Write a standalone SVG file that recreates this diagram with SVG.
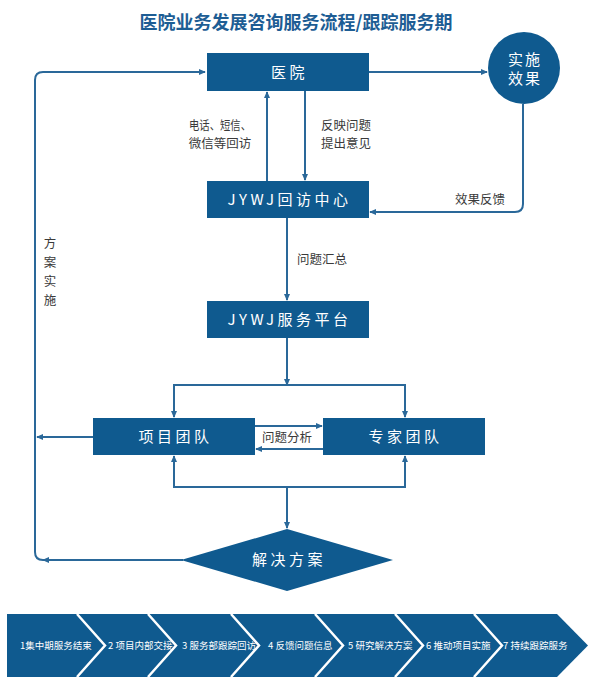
<svg xmlns="http://www.w3.org/2000/svg" width="596" height="682" viewBox="0 0 596 682">
<style>
.box{fill:#0f5a8f}
.bt{font-family:"Noto Sans CJK SC","Liberation Sans",sans-serif;font-size:15px;fill:#ffffff;font-weight:normal;text-anchor:middle;letter-spacing:3.5px}
.lb{font-family:"Noto Sans CJK SC","Liberation Sans",sans-serif;font-size:12.5px;fill:#3a3a3a}
.ln{fill:none;stroke:#2a6899;stroke-width:2}
.ch{font-family:"Noto Sans CJK SC","Liberation Sans",sans-serif;font-size:9.5px;fill:#ffffff}
</style>
<defs>
<marker id="ah" viewBox="0 0 8 8" refX="7" refY="4" markerWidth="7" markerHeight="7" markerUnits="userSpaceOnUse" orient="auto">
<path d="M0,0.5 L8,4 L0,7.5 Z" fill="#2a6899"/>
</marker>
</defs>
<rect width="596" height="682" fill="#ffffff"/>
<text x="296" y="29" font-family="'Noto Sans CJK SC','Liberation Sans',sans-serif" font-size="18" font-weight="bold" fill="#1d5d94" text-anchor="middle">医院业务发展咨询服务流程/跟踪服务期</text>

<g id="connectors">
<path class="ln" d="M183,560 H43" marker-end="url(#ah)"/>
<path class="ln" d="M43,560 Q35,560 35,552 V80 Q35,72 43,72 H205" marker-end="url(#ah)"/>
<path class="ln" d="M369,72 H487" marker-end="url(#ah)"/>
<path class="ln" d="M523,104 V204 Q523,212 515,212 H370" marker-end="url(#ah)"/>
<path class="ln" d="M267,181 V92" marker-end="url(#ah)"/>
<path class="ln" d="M305,91 V180" marker-end="url(#ah)"/>
<path class="ln" d="M287,218 V300" marker-end="url(#ah)"/>
<path class="ln" d="M287,338 V385" marker-end="url(#ah)"/>
<path class="ln" d="M287,385 H174 V417" marker-end="url(#ah)"/>
<path class="ln" d="M287,385 H405 V417" marker-end="url(#ah)"/>
<path class="ln" d="M255,426 H322" marker-end="url(#ah)"/>
<path class="ln" d="M323,449 H256" marker-end="url(#ah)"/>
<path class="ln" d="M93,437 H37" marker-end="url(#ah)"/>
<path class="ln" d="M287,487 H174 V456" marker-end="url(#ah)"/>
<path class="ln" d="M287,487 H405 V456" marker-end="url(#ah)"/>
<path class="ln" d="M287,487 V528" marker-end="url(#ah)"/>
</g>

<g id="labels">
<text class="lb" x="220" y="130" text-anchor="middle" textLength="62" lengthAdjust="spacingAndGlyphs">电话、短信、</text>
<text class="lb" x="220" y="148" text-anchor="middle">微信等回访</text>
<text class="lb" x="321" y="130">反映问题</text>
<text class="lb" x="321" y="148">提出意见</text>
<text class="lb" x="480" y="204" text-anchor="middle">效果反馈</text>
<text class="lb" x="297" y="264">问题汇总</text>
<text class="lb" x="287" y="442" text-anchor="middle">问题分析</text>
<text class="lb" x="50" y="248" text-anchor="middle">方</text>
<text class="lb" x="50" y="267" text-anchor="middle">案</text>
<text class="lb" x="50" y="286" text-anchor="middle">实</text>
<text class="lb" x="50" y="305" text-anchor="middle">施</text>
</g>

<g id="hospital">
<rect class="box" x="207" y="53" width="162" height="38"/>
<text class="bt" x="289.5" y="77.5">医院</text>
</g>
<g id="effect">
<circle class="box" cx="524" cy="68" r="36"/>
<text class="bt" x="525" y="65" style="letter-spacing:2px">实施</text>
<text class="bt" x="525" y="84" style="letter-spacing:2px">效果</text>
</g>
<g id="callcenter">
<rect class="box" x="207" y="181" width="162" height="37"/>
<text class="bt" x="289.5" y="205">JYWJ回访中心</text>
</g>
<g id="platform">
<rect class="box" x="207" y="301" width="162" height="37"/>
<text class="bt" x="289.5" y="325">JYWJ服务平台</text>
</g>
<g id="projectteam">
<rect class="box" x="93" y="418" width="162" height="37"/>
<text class="bt" x="175.5" y="442">项目团队</text>
</g>
<g id="expertteam">
<rect class="box" x="323" y="418" width="162" height="37"/>
<text class="bt" x="405.5" y="442">专家团队</text>
</g>
<g id="solution">
<polygon class="box" points="287,529 393,560 287,591 181,560"/>
<text class="bt" x="289" y="565" style="letter-spacing:3.5px">解决方案</text>
</g>

<g id="steps">
<polygon class="box" points="7,614 557,614 588,645.5 557,677 7,677"/>
<g fill="none" stroke="#ffffff" stroke-width="2.5">
<polyline points="77,614 105,645.5 77,677"/>
<polyline points="148,614 176,645.5 148,677"/>
<polyline points="231,614 259,645.5 231,677"/>
<polyline points="315,614 343,645.5 315,677"/>
<polyline points="395,614 423,645.5 395,677"/>
<polyline points="474,614 502,645.5 474,677"/>
</g>
<text class="ch" x="20" y="649">1集中期服务结束</text>
<text class="ch" x="108" y="649">2 项目内部交接</text>
<text class="ch" x="182" y="649">3 服务部跟踪回访</text>
<text class="ch" x="268" y="649">4 反馈问题信息</text>
<text class="ch" x="348" y="649">5 研究解决方案</text>
<text class="ch" x="426" y="649">6 推动项目实施</text>
<text class="ch" x="503" y="649">7 持续跟踪服务</text>
</g>
</svg>
